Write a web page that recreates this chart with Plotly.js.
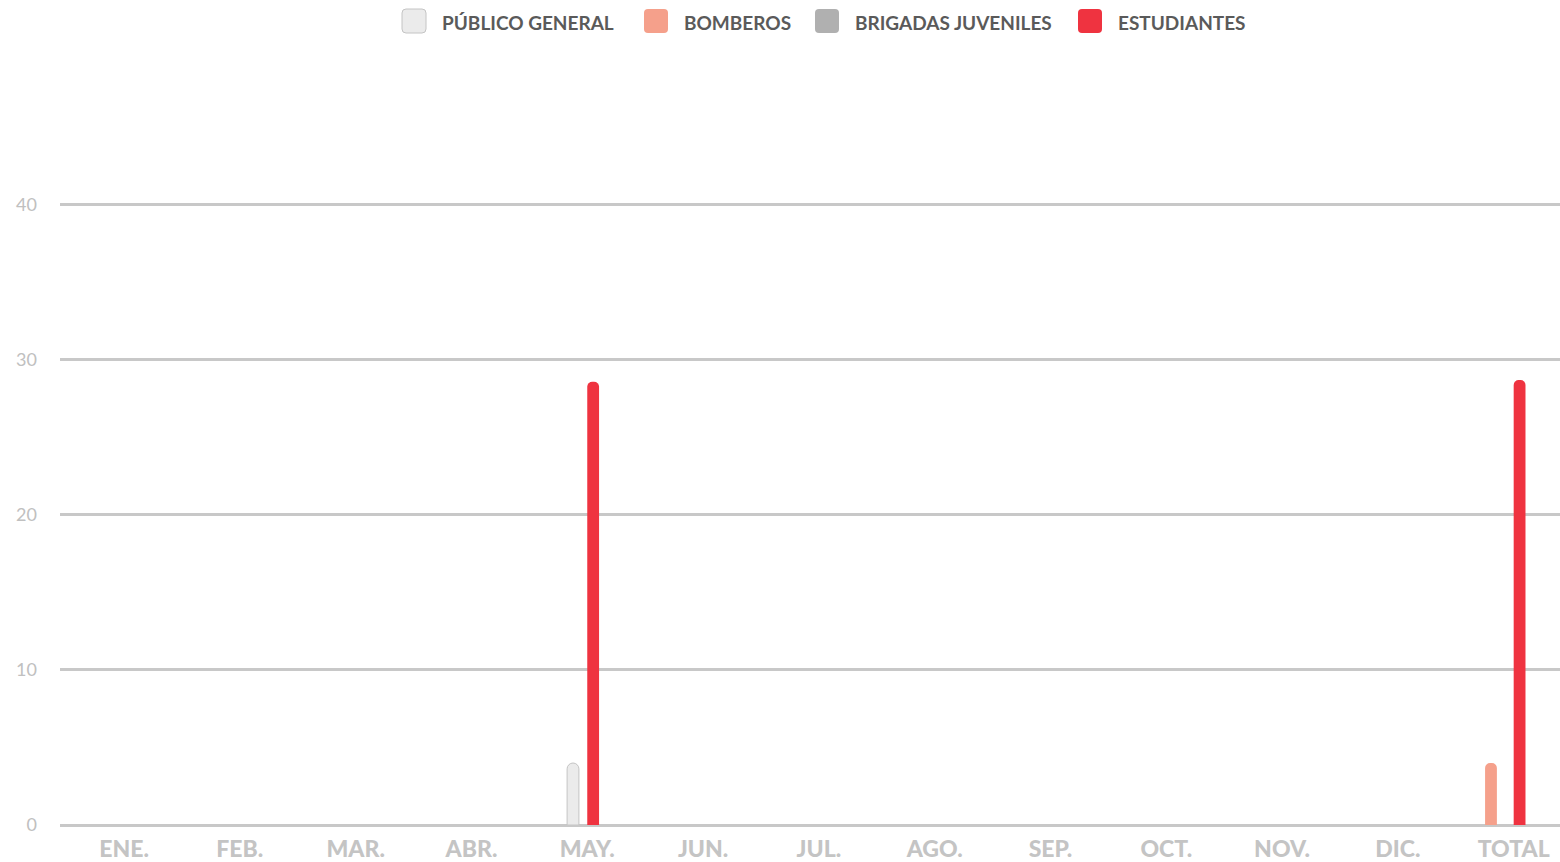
<!DOCTYPE html>
<html>
<head>
<meta charset="utf-8">
<script src="https://cdn.plot.ly/plotly-3.0.1.min.js"></script>
<style>
html,body{margin:0;padding:0;background:#fff;}
#chart{width:1560px;height:862px;}
</style>
</head>
<body>
<div id="chart"></div>
<script>
const months = ['ENE.','FEB.','MAR.','ABR.','MAY.','JUN.','JUL.','AGO.','SEP.','OCT.','NOV.','DIC.','TOTAL'];
const seriesNames = ['PÚBLICO GENERAL','BOMBEROS','BRIGADAS JUVENILES','ESTUDIANTES'];
const publicoGeneral   = [0,0,0,0,4,0,0,0,0,0,0,0,0];
const bomberos         = [0,0,0,0,0,0,0,0,0,0,0,0,4];
const brigadasJuveniles= [0,0,0,0,0,0,0,0,0,0,0,0,0];
const estudiantes      = [0,0,0,0,28.6,0,0,0,0,0,0,0,28.7];
const yTicks = [0,10,20,30,40];

const seriesValues = [publicoGeneral, bomberos, brigadasJuveniles, estudiantes];
const fills   = ['#ebebeb','#f5a08b','#b0b0b0','#ef3340'];
const lines   = ['#c4c4c4','#f5a08b','#b0b0b0','#ef3340'];
const lineW   = [1,0,0,0];
const offsets = [-0.174,-0.247,-0.1,0.0];
const barW = 0.102;

const traces = seriesValues.map((vals,i)=>({
  type:'bar',
  name: seriesNames[i],
  x: months,
  y: vals.map(v => v === 0 ? null : v),
  offset: offsets[i],
  width: barW,
  marker:{color:fills[i], line:{color:lines[i], width:lineW[i]}},
  showlegend:false,
  hoverinfo:'x+y+name'
}));

// custom legend (swatches + labels) in paper coordinates
const L = 60, W = 1500, B = 825, H = 625;
const px = p => (p - L) / W;
const py = p => (B - p) / H;
const swatchLeft = [402, 644, 815, 1078];
const shapes = [];
const annotations = [];
seriesNames.forEach((n,i)=>{
  const x0 = px(swatchLeft[i]), x1 = px(swatchLeft[i]+24);
  const y0 = py(33), y1 = py(9);
  const r = 4;
  const rx = r / W, ry = r / H;
  shapes.push({
    type:'path', xref:'paper', yref:'paper', layer:'above',
    path:`M ${x0+rx},${y0} L ${x1-rx},${y0} Q ${x1},${y0} ${x1},${y0+ry} L ${x1},${y1-ry} Q ${x1},${y1} ${x1-rx},${y1} L ${x0+rx},${y1} Q ${x0},${y1} ${x0},${y1-ry} L ${x0},${y0+ry} Q ${x0},${y0} ${x0+rx},${y0} Z`,
    fillcolor:fills[i],
    line:{color: i===0 ? '#c4c4c4' : fills[i], width: i===0 ? 1 : 0}
  });
  annotations.push({
    xref:'paper', yref:'paper', x:px(swatchLeft[i]+38), y:py(22),
    xanchor:'left', yanchor:'middle', showarrow:false,
    text:'<b>'+n+'</b>', font:{family:'Lato, sans-serif', size:19, color:'#5a5a5a'}
  });
});

const layout = {
  width:1560, height:862,
  paper_bgcolor:'#fff', plot_bgcolor:'#fff',
  margin:{l:60, r:0, t:200, b:37, pad:0},
  barmode:'overlay',
  barcornerradius:6,
  showlegend:false,
  xaxis:{
    type:'category',
    range:[-0.553, 12.40],
    tickvals: months,
    ticktext: months.map(m => '<span style="font-weight:900">'+m+'</span>'),
    showgrid:false, zeroline:false, showline:false,
    ticks:'', ticklabelstandoff:8,
    tickfont:{family:'Lato, sans-serif', size:23, color:'#c4c4c4'},
    fixedrange:true
  },
  yaxis:{
    range:[0,40.32],
    tickvals:yTicks,
    showgrid:true, gridcolor:'#c8c8c8', gridwidth:3,
    zeroline:true, zerolinecolor:'#c8c8c8', zerolinewidth:3,
    showline:false, ticks:'', ticklabelstandoff:22,
    tickfont:{family:'Lato, sans-serif', size:18, color:'#c0c0c0'},
    fixedrange:true
  },
  shapes:shapes,
  annotations:annotations
};

Plotly.newPlot('chart', traces, layout, {displayModeBar:false, responsive:false});
</script>
</body>
</html>
